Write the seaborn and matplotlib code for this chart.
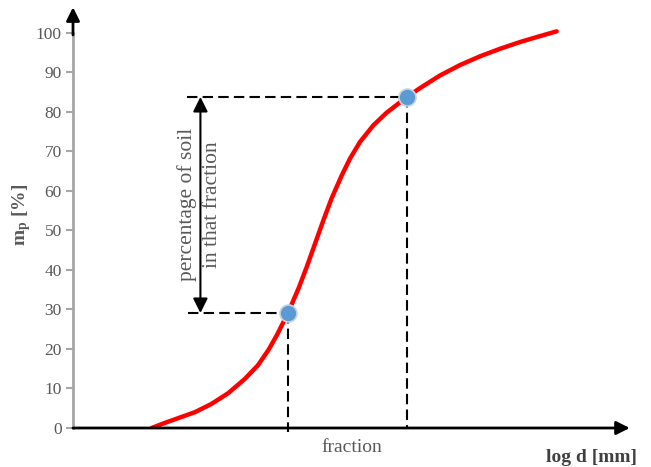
import matplotlib
matplotlib.use("Agg")
import matplotlib.pyplot as plt
import seaborn as sns
import pandas as pd

# Grain-size distribution curve (cumulative passing vs log of grain diameter)
log_d = [1.42, 1.66, 1.90, 2.20, 2.50, 2.80, 3.10, 3.34, 3.53, 3.68,
         3.88, 4.07, 4.22, 4.37, 4.52, 4.67, 4.85, 5.00, 5.18, 5.42,
         5.66, 5.90, 6.03, 6.26, 6.62, 6.99, 7.35, 7.71, 8.07, 8.43, 8.73]
m_p = [0.0, 1.3, 2.5, 4.0, 6.1, 8.8, 12.4, 15.9, 19.8, 23.5,
       29.1, 35.3, 40.8, 46.7, 52.6, 58.2, 63.9, 68.2, 72.4, 76.6,
       79.8, 82.4, 83.8, 86.0, 89.2, 91.9, 94.1, 96.0, 97.7, 99.2, 100.4]

# Boundaries of the highlighted fraction
frac_d = [3.88, 6.03]
frac_m = [29.1, 83.8]

y_ticks = list(range(0, 101, 10))

sns.set_theme(style="white")
plt.rcParams["font.family"] = ["Liberation Serif", "DejaVu Serif"]
plt.rcParams["mathtext.fontset"] = "custom"
plt.rcParams["mathtext.rm"] = "Liberation Serif"
plt.rcParams["mathtext.bf"] = "Liberation Serif:bold"

W, H = 651, 467
fig = plt.figure(figsize=(W / 100, H / 100), dpi=100)
ax = fig.add_axes([73 / W, (H - 428) / H, 554 / W, 416 / H])
ax.set_xlim(0, 10)
ax.set_ylim(0, 105.3)

grey_txt = "#595959"

# dashed guide lines to the axes
dash = dict(color="black", lw=1.5, linestyle=(0, (5, 2.5)), zorder=2)
ax.plot([2.05, frac_d[1]], [frac_m[1], frac_m[1]], **dash)
ax.plot([frac_d[1], frac_d[1]], [frac_m[1], 0], **dash)
ax.plot([2.08, frac_d[0]], [frac_m[0], frac_m[0]], **dash)
ax.plot([frac_d[0], frac_d[0]], [frac_m[0], -1.0], clip_on=False, **dash)

df = pd.DataFrame({"log_d": log_d, "m_p": m_p})
sns.lineplot(data=df, x="log_d", y="m_p", color="#FF0000", lw=3.2,
             ax=ax, zorder=3, solid_capstyle="round",
             solid_joinstyle="round")

pts = pd.DataFrame({"log_d": frac_d, "m_p": frac_m})
sns.scatterplot(data=pts, x="log_d", y="m_p", s=150, color="#5B9BD5",
                edgecolor="#C9D3DD", linewidth=1.2, ax=ax, zorder=4)

# double arrow spanning the fraction
ax.annotate("", xy=(2.30, frac_m[1]), xytext=(2.30, frac_m[0]),
            arrowprops=dict(arrowstyle="<|-|>", color="black", lw=1.5,
                            mutation_scale=22, shrinkA=0, shrinkB=0))
ax.text(2.06, 56.5, "percentage of soil", rotation=90, ha="center",
        va="center", fontsize=15.5, color=grey_txt)
ax.text(2.52, 56.5, "in that fraction", rotation=90, ha="center",
        va="center", fontsize=15.5, color=grey_txt)

# axes with arrow heads
ax.annotate("", xy=(10.05, 0), xytext=(0, 0), annotation_clip=False,
            arrowprops=dict(arrowstyle="-|>", color="black", lw=2,
                            mutation_scale=20, shrinkA=0, shrinkB=0))
ax.annotate("", xy=(0, 106.5), xytext=(0, 99.5), annotation_clip=False,
            arrowprops=dict(arrowstyle="-|>", color="black", lw=2,
                            mutation_scale=20, shrinkA=0, shrinkB=0))

for s in ["top", "right", "bottom"]:
    ax.spines[s].set_visible(False)
ax.spines["left"].set_color("#A6A6A6")
ax.spines["left"].set_linewidth(2)
ax.spines["left"].set_bounds(0, 100)

ax.set_xticks([])
ax.set_yticks(y_ticks)
ax.tick_params(axis="y", which="both", left=True, length=5, width=1.5,
               color="#A6A6A6", labelcolor=grey_txt, labelsize=12.5, pad=3)
ax.set_xlabel("")
ax.set_ylabel("")

fig.text(22 / W, 1 - 215 / H, r"$\mathbf{m_p}$ [%]", rotation=90,
         ha="center", va="center", fontsize=14, fontweight="bold",
         color=grey_txt)
fig.text(592 / W, 1 - 457 / H, "log d [mm]", ha="center", va="center",
         fontsize=14, fontweight="bold", color="#404040")
fig.text(352 / W, 1 - 448 / H, "fraction", ha="center", va="center",
         fontsize=14, color=grey_txt)

fig.savefig("out.png", dpi=100)
